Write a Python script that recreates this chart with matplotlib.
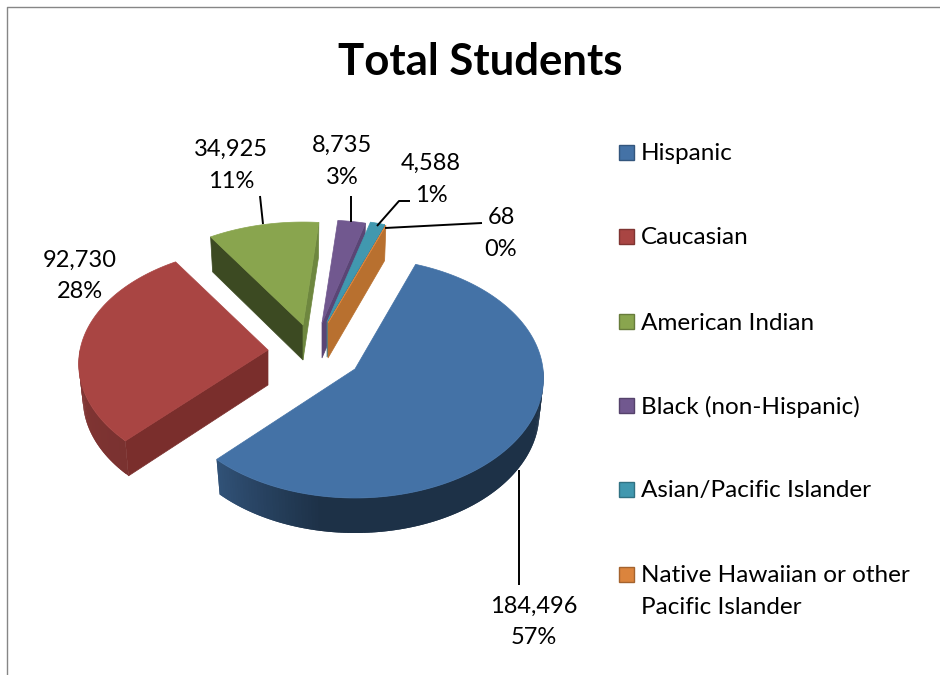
import numpy as np
import matplotlib
matplotlib.use("Agg")
import matplotlib.pyplot as plt
from matplotlib.patches import Polygon, Rectangle

plt.rcParams['font.family'] = ['Lato', 'DejaVu Sans']

title = "Total Students"
categories = ["Hispanic", "Caucasian", "American Indian", "Black (non-Hispanic)",
              "Asian/Pacific Islander", "Native Hawaiian or other\nPacific Islander"]
students = [184496, 92730, 34925, 8735, 4588, 68]

# layout, canvas is in pixels of the 940x675 picture
first_angle = 20.3
tips = [(355, 369), (268, 350), (303, 325), (322, 323), (327, 322), (328, 323)]
top_colors = ["#4472A6", "#A94543", "#89A54E", "#71588F", "#4198AF", "#DB843D"]
start_face = ["#1D3855", "#7A2E2C", "#3C4A22", "#5A4575", "#3A8095", "#B46E33"]
end_face = ["#1D3855", "#7A2E2C", "#6E873F", "#5A4575", "#3A8095", "#B8702F"]
draw_order = [2, 3, 4, 5, 1, 0]
rx, depth, bottom_scale = 188, 35, 0.978
ry = [120, 117, 117, 117, 117, 117]
persp = [0.075, 0.12, 0.12, 0.12, 0.12, 0.12]

label_pos = [(534, 606), (80, 260), (231, 149), (342, 145), (431, 163), (501, 218)]
legend_y = [152, 236, 321, 405, 489, 574]
leaders = [[(519, 470), (519, 585)],
           [(260, 196), (263, 224)],
           [(351, 196), (351, 222)],
           [(410, 201), (399, 201), (377, 226)],
           [(385, 228), (482, 223)]]


def project(i, theta):
    # theta in degrees, clockwise from the back of the pie
    t = np.radians(theta)
    z = -np.cos(t)
    f = 1 + persp[i] * z
    return tips[i][0] + rx * np.sin(t) * f, tips[i][1] + ry[i] * z * f


def lower(i, point):
    # same point on the bottom of the slice, bottom is a bit smaller
    return tips[i][0] + (point[0] - tips[i][0]) * bottom_scale, point[1] + depth


def wall_shade(theta):
    # side wall is darkest at the front right, lighter towards the left
    return float(np.interp(theta, [90, 190, 224, 270], [0.43, 0.43, 0.72, 0.78]))


def darker(color, k):
    return tuple(c * k for c in matplotlib.colors.to_rgb(color))


fig = plt.figure(figsize=(9.4, 6.75), dpi=100)
ax = fig.add_axes([0, 0, 1, 1])
ax.set_xlim(0, 940)
ax.set_ylim(675, 0)
ax.axis('off')

# chart frame
ax.plot([7, 7, 940], [675, 7, 7], color="#868686", lw=1)

total = sum(students)
shares = [v / total * 360 for v in students]
starts = first_angle + np.concatenate([[0], np.cumsum(shares)[:-1]])

for i in draw_order:
    tip = tips[i]
    tip_low = (tip[0], tip[1] + depth)
    a0, a1 = starts[i], starts[i] + shares[i]
    col = top_colors[i]

    # radial cut faces that look towards the viewer
    if np.cos(np.radians(a0 - 90)) < 0:
        p = project(i, a0)
        ax.add_patch(Polygon([tip, p, lower(i, p), tip_low],
                             fc=start_face[i], ec=start_face[i], lw=0.5))
    if np.cos(np.radians(a1 + 90)) < 0:
        p = project(i, a1)
        ax.add_patch(Polygon([tip, p, lower(i, p), tip_low],
                             fc=end_face[i], ec=end_face[i], lw=0.5))

    # outer wall, in small steps so the shading can change
    angles = np.linspace(a0, a1, max(int(shares[i]) + 2, 3))
    for b0, b1 in zip(angles[:-1], angles[1:]):
        if np.cos(np.radians((b0 + b1) / 2)) > 0:
            continue
        # overlap the next step so no seams show
        p0, p1 = project(i, b0), project(i, min(b1 + 1, a1))
        c = darker(col, wall_shade((b0 + b1) / 2))
        ax.add_patch(Polygon([p0, p1, lower(i, p1), lower(i, p0)], fc=c, ec='none'))

    # top face
    outline = [tip] + [project(i, b) for b in angles]
    ax.add_patch(Polygon(outline, fc=col, ec=col, lw=0.5))

for line in leaders:
    xs, ys = zip(*line)
    ax.plot(xs, ys, color="black", lw=1.4, solid_capstyle='butt')

ax.text(480, 62, title, ha='center', va='center', fontsize=31.5, fontweight='bold', color="black")

for v, (x, y) in zip(students, label_pos):
    ax.text(x, y, f"{v:,}", ha='center', va='center', fontsize=17)
    ax.text(x, y + 32, f"{v / total * 100:.0f}%", ha='center', va='center', fontsize=17)

for name, y, col in zip(categories, legend_y, top_colors):
    ax.add_patch(Rectangle((619, y - 7.5), 15, 15, fc=col, ec=darker(col, 0.75), lw=1))
    lines = name.split("\n")
    for j, part in enumerate(lines):
        ax.text(641, y + 2 + j * 31, part, ha='left', va='center', fontsize=17.5)

fig.savefig("out.png", dpi=100)
